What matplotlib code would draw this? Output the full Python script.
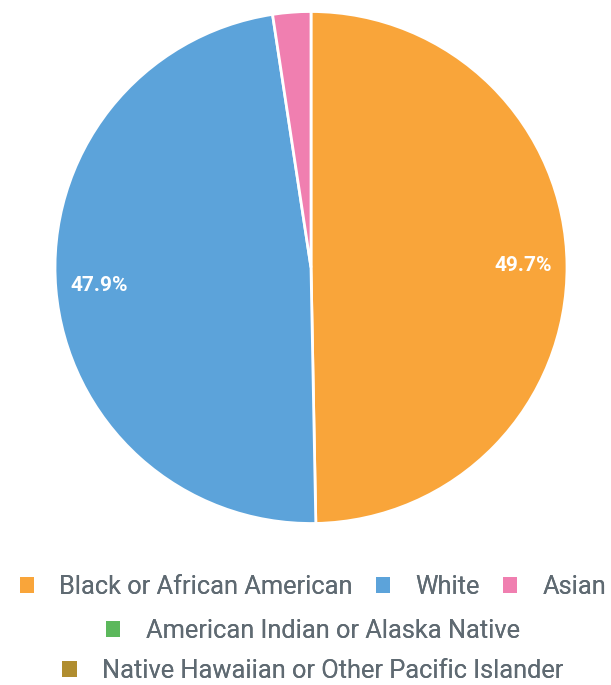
import matplotlib.pyplot as plt
from matplotlib.patches import Patch

plt.rcParams['font.family'] = ['Roboto', 'DejaVu Sans']

groups = ['Black or African American', 'White', 'Asian',
          'American Indian or Alaska Native',
          'Native Hawaiian or Other Pacific Islander']
shares = [49.7, 47.9, 2.4, 0.0, 0.0]
colors = ['#F9A53A', '#5CA3DA', '#F07FB0', '#5CB85C', '#B08D2F']

fig = plt.figure(figsize=(6.11, 6.85), dpi=100)
W, H = 611, 685
cx, cy, r = 311, 267.5, 256
ax = fig.add_axes([(cx - r) / W, 1 - (cy + r) / H, 2 * r / W, 2 * r / H])

# only the non-empty slices go into the pie
idx = [i for i, v in enumerate(shares) if v > 0]
wedges, texts, autotexts = ax.pie(
    [shares[i] for i in idx], colors=[colors[i] for i in idx],
    startangle=90, counterclock=False, normalize=True,
    autopct=lambda p: f'{p:.1f}%' if p > 5 else '', pctdistance=0.83,
    wedgeprops=dict(edgecolor='white', linewidth=2),
    textprops=dict(color='white', fontsize=15, fontweight='bold'))
ax.set_xlim(-1, 1)
ax.set_ylim(-1, 1)
ax.set_aspect('equal')
ax.axis('off')

handles = [Patch(facecolor=c, edgecolor='none') for c in colors]
rows = [([0, 1, 2], 1 - 587 / H), ([3], 1 - 631 / H), ([4], 1 - 671 / H)]
for items, y in rows:
    leg = fig.legend([handles[i] for i in items], [groups[i] for i in items],
                     loc='center', bbox_to_anchor=(313 / W, y), ncol=len(items),
                     frameon=False, fontsize=18.3, labelcolor='#5F6A72',
                     handlelength=0.56, handleheight=0.56, handletextpad=1.0,
                     columnspacing=0.9, borderpad=0, borderaxespad=0)
    fig.add_artist(leg)

fig.savefig('out.png', dpi=100)
